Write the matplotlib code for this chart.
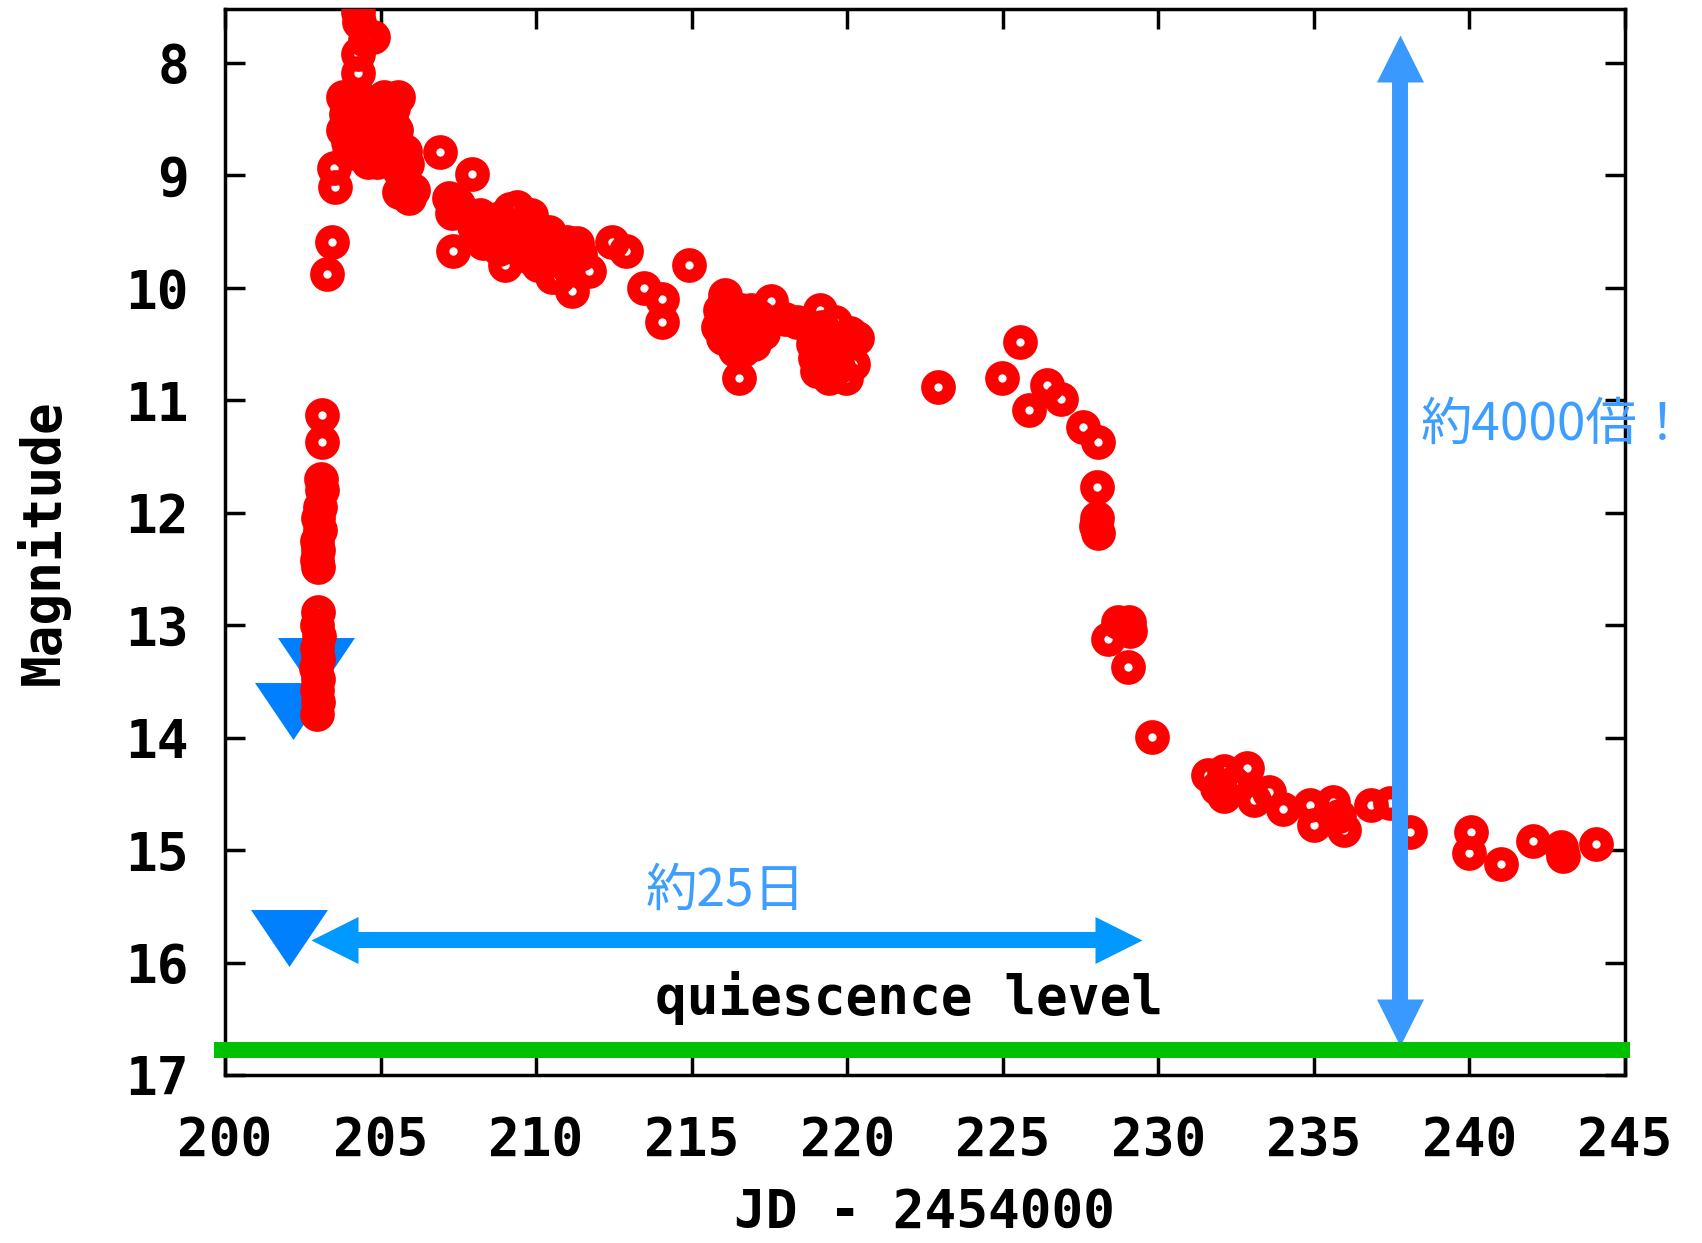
import matplotlib
matplotlib.use('Agg')
import matplotlib.pyplot as plt

# ---------------- data ----------------
jd = [
    # top of the spike
    204.28, 204.30, 204.75, 204.50, 204.28, 204.28,
    # rise
    203.13, 203.13, 203.10, 203.12, 203.05, 203.00, 203.05, 202.95, 203.00, 202.95, 203.00,
    203.00, 202.95, 203.02, 202.95, 203.00, 202.92, 203.00, 202.95, 203.00, 202.97,
    203.27, 203.43, 203.50, 203.55,
    # peak blob
    203.80, 203.90, 203.80, 204.00, 204.10, 204.20, 204.30, 204.40, 204.50, 204.60, 204.70,
    204.80, 204.90, 205.00, 205.10, 205.20, 205.30, 205.40, 205.50, 205.55, 205.30, 204.90,
    204.60, 205.80, 205.85, 205.60, 204.00,
    204.20, 204.60, 205.00, 205.40, 204.40, 205.10, 203.95,
    # after peak
    205.60, 205.90, 206.05, 206.91, 207.94, 207.20, 207.50, 207.29, 207.33,
    208.00, 208.20, 208.50, 208.85, 208.60, 209.00, 209.15, 209.40, 209.30, 209.60, 209.85,
    209.70, 209.00, 210.00, 210.16, 210.30, 210.05, 210.50, 210.60, 210.80, 211.00, 211.03,
    211.40, 211.70, 211.16,
    208.30, 208.80, 209.50, 209.90, 210.40, 210.70, 211.30, 209.20,
    212.44, 212.90, 213.47, 214.05, 214.05, 214.92,
    216.08, 215.90, 215.85, 216.00, 216.30, 216.50, 216.60, 216.80, 217.00, 217.17, 216.65,
    217.00, 217.56, 216.53,
    216.20, 216.40, 216.90, 217.30,
    218.00, 218.40,
    218.90, 218.95, 219.13, 219.30, 219.50, 219.60, 219.85, 220.10, 220.20, 219.95, 219.02,
    220.30, 219.20, 219.70, 219.40,
    222.93, 224.98, 225.56, 225.85, 226.43, 226.88, 227.59, 228.07, 228.04, 228.04, 228.00,
    228.06,
    # decline
    228.39, 228.70, 229.05, 229.10, 229.03, 229.81,
    # tail
    231.60, 231.90, 232.10, 232.10, 232.40, 232.86, 233.06, 233.57, 234.02, 234.89, 235.00,
    235.63, 235.80, 235.98, 236.85, 237.46, 238.10, 240.05, 240.00, 241.00, 242.03, 242.95,
    243.00, 244.08,
]
mag = [
    7.55, 7.64, 7.77, 7.80, 7.92, 8.09,
    11.13, 11.37, 11.70, 11.80, 11.95, 12.05, 12.15, 12.25, 12.33, 12.42, 12.48,
    12.88, 13.00, 13.10, 13.20, 13.30, 13.38, 13.48, 13.58, 13.68, 13.79,
    9.88, 9.59, 8.93, 9.10,
    8.30, 8.45, 8.60, 8.35, 8.55, 8.70, 8.30, 8.50, 8.65, 8.35, 8.55,
    8.75, 8.40, 8.60, 8.30, 8.50, 8.70, 8.40, 8.60, 8.30, 8.85, 8.88,
    8.88, 8.78, 8.90, 8.95, 8.80,
    8.45, 8.45, 8.45, 8.55, 8.75, 8.75, 8.70,
    9.15, 9.20, 9.13, 8.79, 8.99, 9.20, 9.25, 9.33, 9.67,
    9.45, 9.35, 9.42, 9.38, 9.55, 9.52, 9.30, 9.28, 9.62, 9.45, 9.35,
    9.72, 9.80, 9.55, 9.62, 9.75, 9.80, 9.90, 9.62, 9.75, 9.59, 9.81,
    9.70, 9.85, 10.03,
    9.60, 9.65, 9.55, 9.65, 9.50, 9.90, 9.60, 9.45,
    9.59, 9.67, 10.00, 10.10, 10.30, 9.80,
    10.06, 10.20, 10.35, 10.45, 10.30, 10.42, 10.20, 10.50, 10.35, 10.26, 10.55,
    10.50, 10.12, 10.80,
    10.15, 10.55, 10.20, 10.40,
    10.28, 10.30,
    10.50, 10.62, 10.20, 10.45, 10.62, 10.30, 10.50, 10.40, 10.68, 10.80, 10.74,
    10.45, 10.35, 10.70, 10.80,
    10.88, 10.80, 10.48, 11.09, 10.86, 10.99, 11.24, 11.37, 11.77, 12.05, 12.12,
    12.18,
    13.12, 12.97, 12.97, 13.05, 13.37, 13.99,
    14.33, 14.45, 14.30, 14.52, 14.40, 14.27, 14.55, 14.48, 14.63, 14.60, 14.78,
    14.57, 14.70, 14.82, 14.60, 14.58, 14.84, 14.84, 15.03, 15.12, 14.92, 14.97,
    15.05, 14.95,
]

# upper limits (blue triangles)
lim_jd = [202.06, 202.17, 202.91]
lim_mag = [15.78, 13.76, 13.36]

quiescence_mag = 16.78
quiescence_x = [199.65, 245.15]

# annotation arrows
varrow_x = 237.78
varrow_y = [7.75, 16.74]
harrow_y = 15.80
harrow_x = [202.78, 229.49]

xticks = [200, 205, 210, 215, 220, 225, 230, 235, 240, 245]
yticks = [8, 9, 10, 11, 12, 13, 14, 15, 16, 17]

# ---------------- figure ----------------
W, H = 1702, 1243
fig = plt.figure(figsize=(W / 100, H / 100), dpi=100)
ax = fig.add_axes([225 / W, 1 - 1075 / H, 1400 / W, 1066 / H])
ax.set_xlim(200, 245)
ax.set_ylim(17, 7.52)

FS = 38
mono = dict(family='DejaVu Sans Mono', weight='bold', size=FS)
cjk = ['Noto Sans CJK JP', 'DejaVu Sans']

# upper-limit triangles
tri = [(-1, 0.74), (1, 0.74), (0, -0.74), (-1, 0.74)]
ax.plot(lim_jd, lim_mag, linestyle='none', marker=tri, markersize=55.4,
        markerfacecolor='#0080ff', markeredgewidth=0, zorder=2)

# data rings
ax.plot(jd, mag, linestyle='none', marker='o', markersize=15.5,
        markerfacecolor='none', markeredgecolor='#ff0000',
        markeredgewidth=9.5, zorder=3)

# quiescence line
ax.plot(quiescence_x, [quiescence_mag, quiescence_mag], color='#00c000',
        lw=11.5, solid_capstyle='butt', clip_on=False, zorder=6)
ax.text(222.0, 16.46, 'quiescence level', ha='center', va='baseline',
        color='black', **mono)

# arrows (shaft + triangular heads as markers)
px_per_mag = ax.bbox.height / (17 - 7.52)
px_per_day = ax.bbox.width / 45.0
head_px = 47
hm = head_px * 0.8

up = [(0, 0), (-0.5, -1), (0.5, -1), (0, 0)]
down = [(0, 0), (-0.5, 1), (0.5, 1), (0, 0)]
left = [(0, 0), (1, 0.5), (1, -0.5), (0, 0)]
right = [(0, 0), (-1, 0.5), (-1, -0.5), (0, 0)]
head_ms = 2 * head_px * 0.72

vcol = '#3a99ff'
ax.plot([varrow_x, varrow_x],
        [varrow_y[0] + hm / px_per_mag, varrow_y[1] - hm / px_per_mag],
        color=vcol, lw=11.5, solid_capstyle='butt', zorder=4)
ax.plot([varrow_x], [varrow_y[0]], marker=up, markersize=head_ms, color=vcol,
        markeredgewidth=0, linestyle='none', zorder=4, clip_on=False)
ax.plot([varrow_x], [varrow_y[1]], marker=down, markersize=head_ms, color=vcol,
        markeredgewidth=0, linestyle='none', zorder=4, clip_on=False)

hcol = '#0099ff'
ax.plot([harrow_x[0] + hm / px_per_day, harrow_x[1] - hm / px_per_day],
        [harrow_y, harrow_y], color=hcol, lw=11.5, solid_capstyle='butt', zorder=4)
ax.plot([harrow_x[0]], [harrow_y], marker=left, markersize=head_ms, color=hcol,
        markeredgewidth=0, linestyle='none', zorder=4)
ax.plot([harrow_x[1]], [harrow_y], marker=right, markersize=head_ms, color=hcol,
        markeredgewidth=0, linestyle='none', zorder=4)

tcol = '#3d9eff'
ax.text(216.08, 15.36, '約25日', ha='center', va='center', color=tcol,
        family=cjk, size=37)
ax.text(238.42, 11.22, '約4000倍！', ha='left', va='center', color=tcol,
        family=cjk, size=37, clip_on=False)

# axes styling
for s in ax.spines.values():
    s.set_linewidth(2.5)
ax.set_xticks(xticks)
ax.set_yticks(yticks)
ax.tick_params(axis='both', which='major', direction='in', length=14.4, width=2.5,
               top=True, right=True)
ax.tick_params(axis='x', pad=29)
ax.tick_params(axis='y', pad=26)
for lab in ax.get_xticklabels() + ax.get_yticklabels():
    lab.set_fontfamily('DejaVu Sans Mono')
    lab.set_fontweight('bold')
    lab.set_fontsize(FS)
ax.set_xlabel('JD - 2454000', labelpad=14, **mono)
ax.set_ylabel('Magnitude', labelpad=40, **mono)

fig.savefig('out.png', dpi=100)
